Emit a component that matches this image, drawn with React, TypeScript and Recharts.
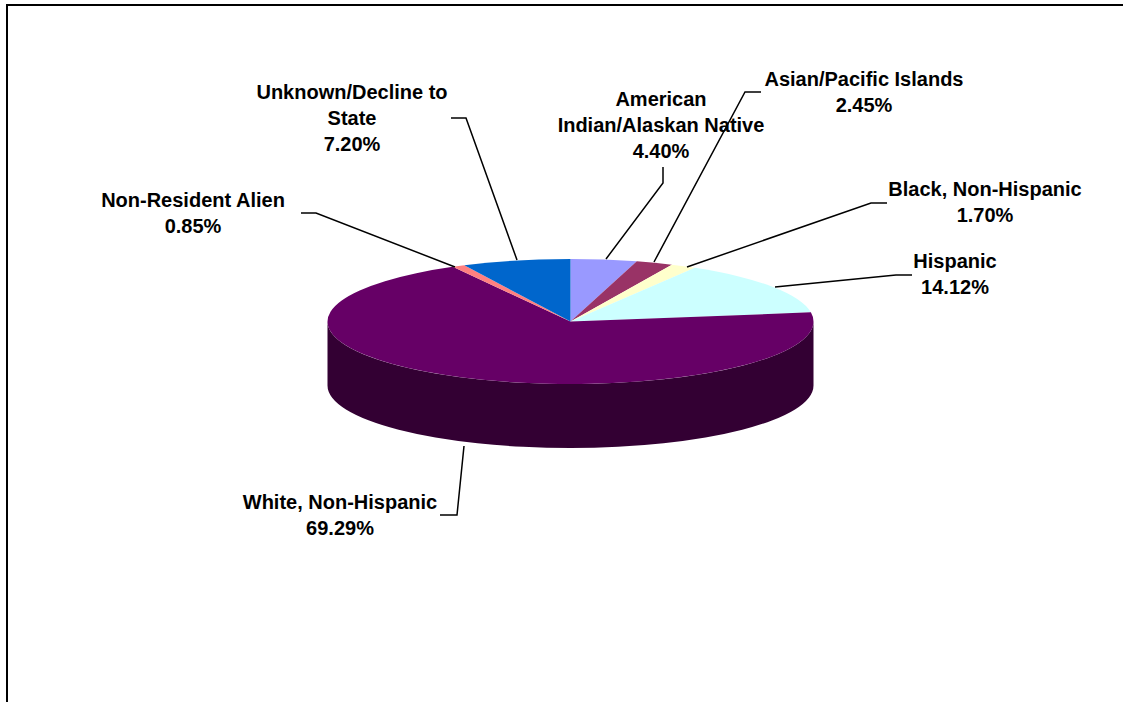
import { PieChart, Pie, Cell } from "recharts";

const categories = [
  "American\nIndian/Alaskan Native",
  "Asian/Pacific Islands",
  "Black, Non-Hispanic",
  "Hispanic",
  "White, Non-Hispanic",
  "Non-Resident Alien",
  "Unknown/Decline to\nState",
];
const shares = [4.4, 2.45, 1.7, 14.12, 69.29, 0.85, 7.2];
const topColors = ["#9999FF", "#993366", "#FFFFCC", "#CCFFFF", "#660066", "#FF8080", "#0066CC"];
const sideColors = ["#4D4D80", "#4D1A33", "#808066", "#668080", "#330033", "#804040", "#003366"];

// label anchor: centre x, first line's baseline
const labelSpots = [
  [661, 106],
  [864, 86],
  [985, 196],
  [955, 268],
  [340, 509],
  [193, 207],
  [352, 99],
];
// leader lines, from the text to the rim
const leaders = [
  "663,167 663,183 606,259",
  "761,92 745,92 654,262",
  "887,203 871,203 687,267",
  "912,275 896,275 775,287",
  "440,515 457,515 464,446",
  "301,213 316,213 455,267",
  "451,118 466,118 517,260",
];

const squash = 62.5 / 243;
const depth = 64;
const lineHeight = 26;
const RAD = Math.PI / 180;

const data = categories.map((name, i) => ({ name, value: shares[i] }));

function EllipseSlice(props: any) {
  const { cx, cy, outerRadius: r, startAngle, endAngle, fill, index } = props;
  const ry = r * squash;
  const at = (a: number, dy = 0) =>
    `${cx + r * Math.cos(a * RAD)} ${cy - ry * Math.sin(a * RAD) + dy}`;
  const large = Math.abs(startAngle - endAngle) > 180 ? 1 : 0;

  // the near half of the rim, between 3 o'clock and 9 o'clock
  const a1 = Math.min(startAngle, 0);
  const a2 = Math.max(endAngle, -180);
  const hasWall = a1 > a2;

  return (
    <g>
      {hasWall && (
        <path
          fill={sideColors[index]}
          d={`M${at(a1)} A${r} ${ry} 0 0 1 ${at(a2)} L${at(a2, depth)} A${r} ${ry} 0 0 0 ${at(a1, depth)} Z`}
        />
      )}
      <path
        fill={fill}
        d={`M${cx} ${cy} L${at(startAngle)} A${r} ${ry} 0 ${large} 1 ${at(endAngle)} Z`}
      />
    </g>
  );
}

function SliceLabel({ index, value, name }: any) {
  const [x, y] = labelSpots[index];
  const lines = [...String(name).split("\n"), `${value.toFixed(2)}%`];
  return (
    <g>
      <polyline points={leaders[index]} fill="none" stroke="#000" strokeWidth={1.5} />
      <text
        textAnchor="middle"
        fontFamily="'Liberation Sans', Arial, sans-serif"
        fontWeight={700}
        fontSize={20}
        fill="#000"
      >
        {lines.map((line, i) => (
          <tspan key={i} x={x} y={y + i * lineHeight}>
            {line}
          </tspan>
        ))}
      </text>
    </g>
  );
}

export default function App() {
  return (
    <div style={{ position: "absolute", left: 0, top: 0, width: 1123, height: 702, overflow: "hidden", background: "#fff" }}>
      <div
        style={{
          position: "absolute",
          left: 6,
          top: 4,
          right: 0,
          bottom: 0,
          borderLeft: "2px solid #000",
          borderTop: "2px solid #000",
        }}
      />
      <div style={{ position: "absolute", left: 0, top: 0 }}>
        <PieChart width={1123} height={702} margin={{ top: 0, right: 0, bottom: 0, left: 0 }}>
          <Pie
            data={data}
            dataKey="value"
            nameKey="name"
            cx={570.5}
            cy={321.5}
            innerRadius={0}
            outerRadius={243}
            startAngle={90}
            endAngle={-270}
            stroke="none"
            shape={EllipseSlice}
            label={SliceLabel}
            labelLine={false}
            isAnimationActive={false}
          >
            {data.map((_, i) => (
              <Cell key={i} fill={topColors[i]} />
            ))}
          </Pie>
        </PieChart>
      </div>
    </div>
  );
}
